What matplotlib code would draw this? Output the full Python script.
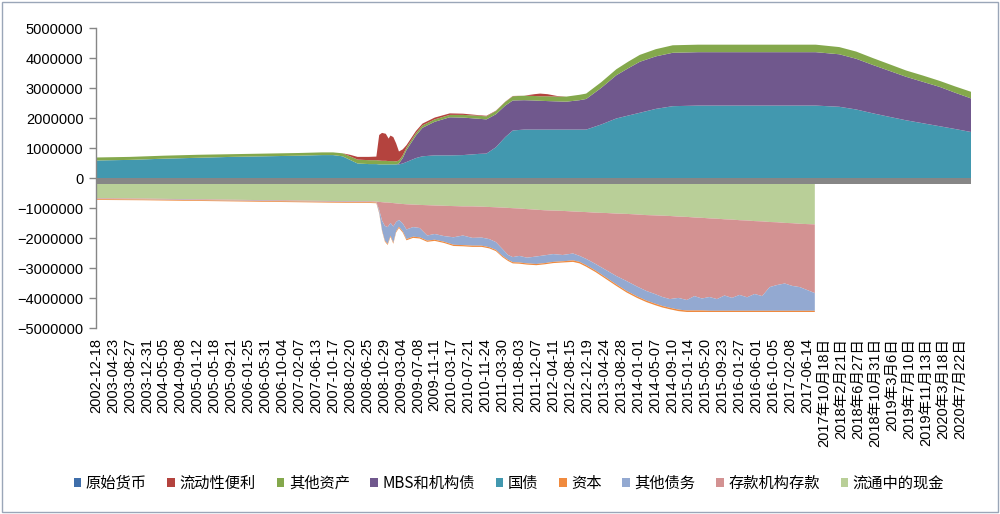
import matplotlib
matplotlib.use("Agg")
import matplotlib.pyplot as plt
from matplotlib.patches import Patch, Rectangle
from matplotlib.ticker import FuncFormatter, MultipleLocator

# ---------------- data (weekly category index, chart units) ----------------
asset_weeks = [0, 36, 72, 108, 144, 180, 216, 240, 252, 262,
               270, 278, 290, 298, 301, 304, 308, 311, 313, 316,
               319, 322, 326, 330, 340, 347, 360, 376, 390, 407,
               415, 425, 435, 443, 455, 466, 472, 480, 490, 500,
               514, 521, 537, 553, 566, 578, 595, 613, 640, 680,
               720, 765, 790, 808, 826, 844, 861, 879, 897, 913,
               930]

treasury = [600000, 620000, 660000, 690000, 720000, 740000, 760000, 780000, 780000, 740000,
            620000, 500000, 480000, 480000, 470000, 470000, 470000, 470000, 470000, 470000,
            470000, 470000, 500000, 550000, 680000, 740000, 770000, 770000, 780000, 820000,
            830000, 1040000, 1380000, 1600000, 1630000, 1630000, 1630000, 1630000, 1630000, 1630000,
            1630000, 1630000, 1800000, 2000000, 2100000, 2190000, 2320000, 2410000, 2430000, 2430000,
            2430000, 2430000, 2390000, 2300000, 2170000, 2050000, 1940000, 1840000, 1740000, 1650000,
            1550000]

mbs_agency = [0, 0, 0, 0, 0, 0, 0, 0, 0, 0,
              0, 0, 0, 0, 0, 0, 0, 0, 0, 0,
              0, 30000, 180000, 400000, 750000, 950000, 1120000, 1270000, 1250000, 1170000,
              1140000, 1100000, 1050000, 1000000, 980000, 970000, 960000, 950000, 940000, 930000,
              980000, 1020000, 1220000, 1440000, 1580000, 1700000, 1750000, 1780000, 1780000, 1780000,
              1780000, 1780000, 1750000, 1690000, 1610000, 1530000, 1450000, 1380000, 1310000, 1210000,
              1120000]

other_assets = [100000, 100000, 100000, 100000, 90000, 90000, 90000, 90000, 90000, 100000,
                120000, 130000, 130000, 130000, 130000, 120000, 120000, 110000, 110000, 110000,
                100000, 100000, 90000, 80000, 80000, 80000, 80000, 80000, 90000, 100000,
                100000, 110000, 120000, 140000, 150000, 150000, 150000, 160000, 160000, 170000,
                180000, 180000, 190000, 200000, 220000, 230000, 240000, 250000, 250000, 250000,
                250000, 250000, 240000, 240000, 230000, 220000, 210000, 210000, 200000, 210000,
                220000]

liquidity = [0, 0, 0, 0, 0, 0, 0, 0, 0, 0,
             50000, 90000, 110000, 120000, 850000, 930000, 900000, 750000, 850000, 800000,
             600000, 300000, 200000, 80000, 70000, 60000, 60000, 50000, 40000, 20000,
             20000, 10000, 10000, 10000, 0, 60000, 90000, 70000, 20000, 0,
             0, 0, 0, 0, 0, 0, 0, 0, 0, 0,
             0, 0, 0, 0, 0, 0, 0, 0, 0, 0,
             0]

liab_weeks = [0, 50, 100, 150, 200, 250, 290, 298, 301, 304,
              307, 310, 313, 316, 319, 322, 326, 330, 337, 344,
              352, 360, 370, 380, 390, 400, 410, 418, 425, 432,
              438, 443, 450, 458, 468, 477, 486, 496, 507, 514,
              521, 531, 542, 553, 564, 575, 585, 594, 602, 610,
              619, 628, 636, 644, 652, 660, 668, 676, 684, 692,
              700, 708, 716, 724, 732, 740, 748, 756, 764]

currency = [660000, 670000, 690000, 710000, 730000, 750000, 760000, 770000, 780000, 790000,
            800000, 800000, 810000, 820000, 830000, 840000, 850000, 860000, 870000, 880000,
            890000, 900000, 910000, 920000, 930000, 930000, 940000, 950000, 960000, 970000,
            980000, 990000, 1000000, 1020000, 1040000, 1060000, 1070000, 1080000, 1100000, 1110000,
            1120000, 1140000, 1150000, 1170000, 1180000, 1200000, 1220000, 1230000, 1240000, 1250000,
            1270000, 1280000, 1300000, 1310000, 1330000, 1340000, 1360000, 1370000, 1390000, 1400000,
            1420000, 1430000, 1450000, 1460000, 1480000, 1490000, 1510000, 1520000, 1530000]

deposits = [20000, 20000, 20000, 20000, 20000, 20000, 20000, 20000, 270000, 610000,
            780000, 820000, 670000, 780000, 620000, 540000, 650000, 840000, 750000, 770000,
            1010000, 950000, 1010000, 1040000, 970000, 1050000, 1030000, 1070000, 1160000, 1380000,
            1570000, 1630000, 1580000, 1620000, 1560000, 1500000, 1450000, 1470000, 1400000, 1470000,
            1560000, 1710000, 1900000, 2080000, 2240000, 2400000, 2530000, 2620000, 2710000, 2770000,
            2710000, 2770000, 2620000, 2690000, 2620000, 2680000, 2540000, 2610000, 2490000, 2560000,
            2430000, 2490000, 2170000, 2090000, 2020000, 2090000, 2110000, 2200000, 2290000]

other_liab = [10000, 10000, 10000, 10000, 10000, 10000, 10000, 10000, 80000, 320000,
              490000, 560000, 430000, 540000, 310000, 230000, 260000, 320000, 320000, 310000,
              170000, 190000, 190000, 250000, 320000, 260000, 270000, 270000, 260000, 230000,
              160000, 170000, 220000, 190000, 250000, 260000, 260000, 210000, 230000, 200000,
              210000, 220000, 250000, 280000, 330000, 330000, 320000, 320000, 300000, 290000,
              390000, 350000, 480000, 400000, 460000, 390000, 510000, 430000, 530000, 450000,
              560000, 490000, 790000, 860000, 910000, 830000, 790000, 690000, 590000]

capital = [25000, 25000, 25000, 25000, 25000, 25000, 25000, 25000, 30000, 30000,
           30000, 35000, 35000, 35000, 35000, 40000, 40000, 40000, 40000, 40000,
           40000, 40000, 40000, 40000, 40000, 40000, 40000, 40000, 40000, 40000,
           40000, 40000, 40000, 40000, 40000, 40000, 40000, 40000, 50000, 50000,
           50000, 50000, 50000, 50000, 50000, 50000, 50000, 50000, 50000, 50000,
           50000, 50000, 50000, 50000, 40000, 40000, 40000, 40000, 40000, 40000,
           40000, 40000, 40000, 40000, 40000, 40000, 40000, 40000, 40000]

axis_band = 200000   # thick grey horizontal axis band below zero

tick_labels = ["2002-12-18", "2003-04-23", "2003-08-27", "2003-12-31", "2004-05-05", "2004-09-08",
               "2005-01-12", "2005-05-18", "2005-09-21", "2006-01-25", "2006-05-31", "2006-10-04",
               "2007-02-07", "2007-06-13", "2007-10-17", "2008-02-20", "2008-06-25", "2008-10-29",
               "2009-03-04", "2009-07-08", "2009-11-11", "2010-03-17", "2010-07-21", "2010-11-24",
               "2011-03-30", "2011-08-03", "2011-12-07", "2012-04-11", "2012-08-15", "2012-12-19",
               "2013-04-24", "2013-08-28", "2014-01-01", "2014-05-07", "2014-09-10", "2015-01-14",
               "2015-05-20", "2015-09-23", "2016-01-27", "2016-06-01", "2016-10-05", "2017-02-08",
               "2017-06-14", "2017年10月18日", "2018年2月21日", "2018年6月27日", "2018年10月31日",
               "2019年3月6日", "2019年7月10日", "2019年11月13日", "2020年3月18日", "2020年7月22日"]
tick_step = 18

legend_names = ["原始货币", "流动性便利", "其他资产", "MBS和机构债", "国债",
                "资本", "其他债务", "存款机构存款", "流通中的现金"]

# ---------------- styling ----------------
col = {
    "原始货币": "#3F6EAA",
    "流动性便利": "#B4433E",
    "其他资产": "#84A84C",
    "MBS和机构债": "#70588D",
    "国债": "#4298AF",
    "资本": "#F08A3E",
    "其他债务": "#93A9D1",
    "存款机构存款": "#D39292",
    "流通中的现金": "#B9CF98",
}

fig = plt.figure(figsize=(10, 5.14), dpi=100)
ax = fig.add_axes([0.096, 0.3609, 0.875, 0.5837])

ax.stackplot(asset_weeks, treasury, mbs_agency, other_assets, liquidity,
             colors=[col["国债"], col["MBS和机构债"], col["其他资产"], col["流动性便利"]],
             linewidth=0, zorder=2)
neg = [[-v for v in s] for s in (currency, deposits, other_liab, capital)]
ax.stackplot(liab_weeks, *neg,
             colors=[col["流通中的现金"], col["存款机构存款"], col["其他债务"], col["资本"]],
             linewidth=0, zorder=2)
ax.axhspan(-axis_band, 0, color="#868686", lw=0, zorder=3)

ax.set_xlim(0, asset_weeks[-1])
ax.set_ylim(-5000000, 5000000)
ax.yaxis.set_major_locator(MultipleLocator(1000000))
ax.yaxis.set_major_formatter(FuncFormatter(lambda v, p: f"{v:.0f}".replace("-", "\u2212")))

positions = [i * tick_step for i in range(len(tick_labels))]
ax.set_xticks(positions)
ax.set_xticklabels(tick_labels, rotation=90, fontsize=10.5,
                   family=["Liberation Sans", "Noto Sans CJK SC"])
ax.tick_params(axis="x", length=0, pad=7)
ax.tick_params(axis="y", length=5, width=1, color="#868686", pad=4, labelsize=10.5)
for t in ax.get_yticklabels():
    t.set_family(["Liberation Sans"])

for s in ["top", "right", "bottom"]:
    ax.spines[s].set_visible(False)
ax.spines["left"].set_color("#868686")
ax.spines["left"].set_linewidth(1)

handles = [Patch(facecolor=col[n], edgecolor="none") for n in legend_names]
fig.legend(handles, legend_names, loc="center", bbox_to_anchor=(0.509, 0.060),
           ncol=9, frameon=False, handlelength=0.5, handleheight=0.5,
           handletextpad=0.3, columnspacing=1.35,
           prop={"family": ["Noto Sans CJK SC", "DejaVu Sans"], "size": 11})

fig.patches.append(Rectangle((0.002, 0.003), 0.996, 0.994, transform=fig.transFigure,
                             fill=False, edgecolor="#9AA6B8", linewidth=1))

fig.savefig("out.png", dpi=100)
